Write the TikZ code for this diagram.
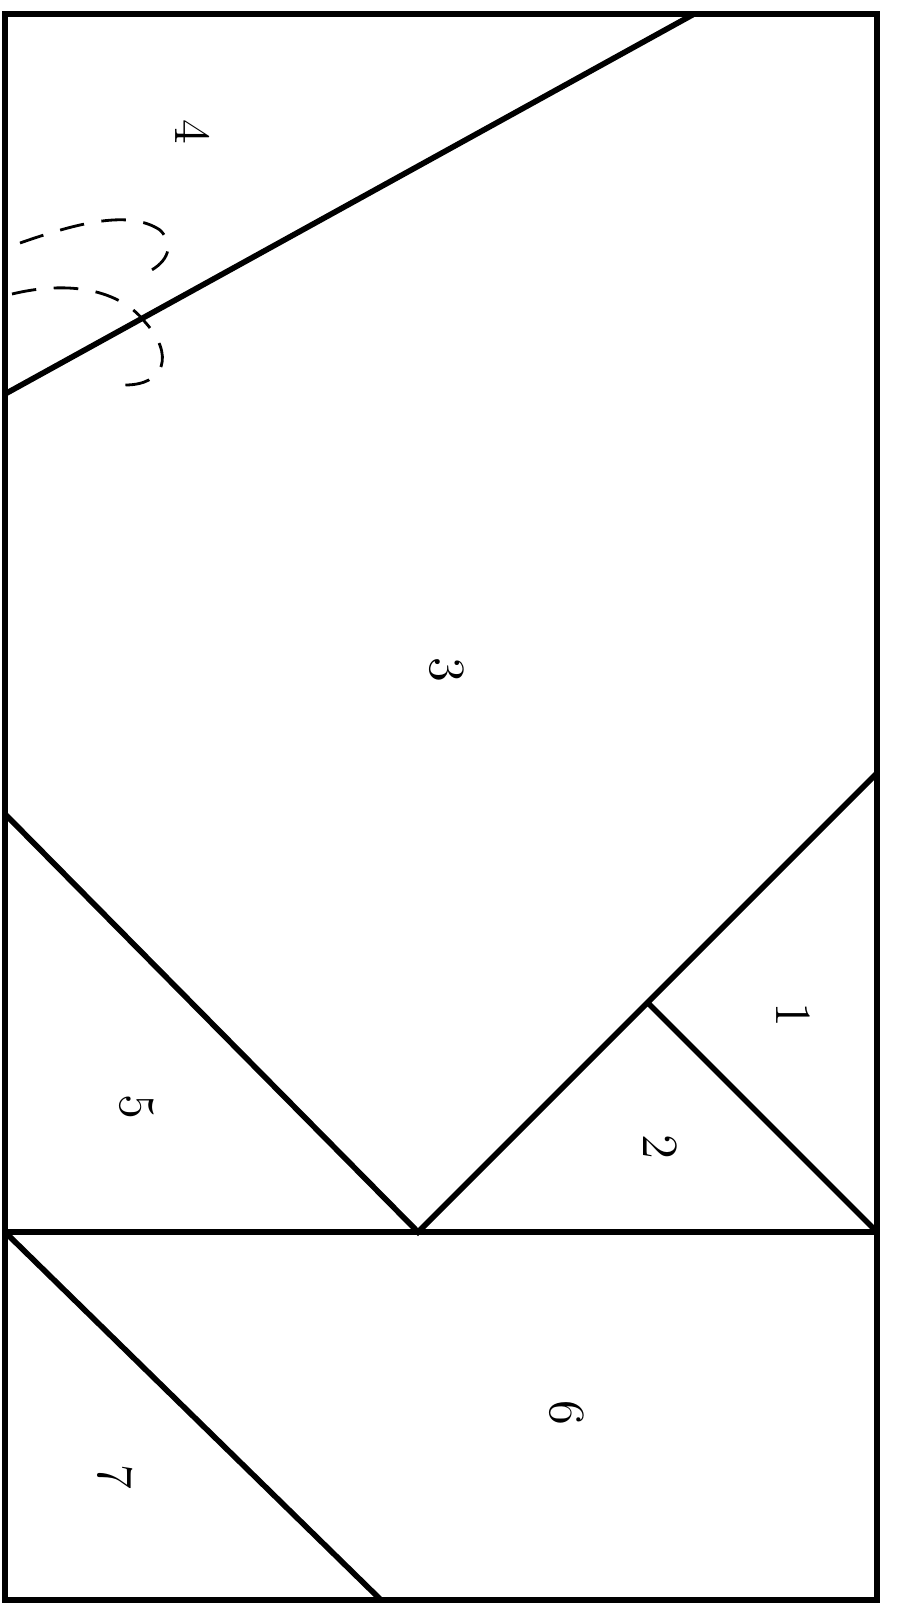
\documentclass[tikz,border=0pt]{standalone}
\usepackage{tikz}
\usetikzlibrary{positioning}

\begin{document}
\begin{tikzpicture}[
    x=0.01cm,
    y=-0.01cm,
    cut/.style={
        draw,
        line width=1.6pt,
        line join=miter
    },
    fold/.style={
        draw,
        dashed,
        line width=0.8pt,
        dash pattern=on 7pt off 5pt
    },
    piece/.style={
        rotate=-90,
        font=\Large
    }
]
\useasboundingbox (0,0) rectangle (899,1605);

% corners and cut points
\coordinate (TL) at (5,14);
\coordinate (TR) at (877,14);
\coordinate (BL) at (5,1600);
\coordinate (BR) at (877,1600);
\coordinate (topcut) at (694,14);
\coordinate (leftcut) at (5,394);
\coordinate (vleft) at (5,814);
\coordinate (vright) at (877,773);
\coordinate (ML) at (5,1232);
\coordinate (MR) at (877,1232);
\coordinate (apex) at (418,1232);
\coordinate (mid) at (648,1003);
\coordinate (bottomcut) at (381,1600);

% frame
\path[cut] (TL) -- (TR) -- (BR) -- (BL) -- cycle;
% cuts
\path[cut]
(leftcut) -- (topcut)
(ML) -- (MR)
(vleft) -- (apex) -- (vright)
(mid) -- (MR)
(ML) -- (bottomcut);

% folds
\path[fold] (20,243) .. controls (80,222) and (130,210) .. (160,230)
    .. controls (175,245) and (168,262) .. (148,272);
\path[fold] (12,294) .. controls (70,280) and (120,290) .. (145,322)
    .. controls (175,355) and (165,385) .. (125,385);

% pieces
\node[piece] (p1) at (793,1015) {1};
\node[piece] (p2) at (660,1147) {2};
\node[piece] (p3) at (447,670) {3};
\node[piece] (p4) at (193,132) {4};
\node[piece] (p5) at (137,1107) {5};
\node[piece] (p6) at (567,1413) {6};
\node[piece] (p7) at (115,1477) {7};
\end{tikzpicture}
\end{document}
